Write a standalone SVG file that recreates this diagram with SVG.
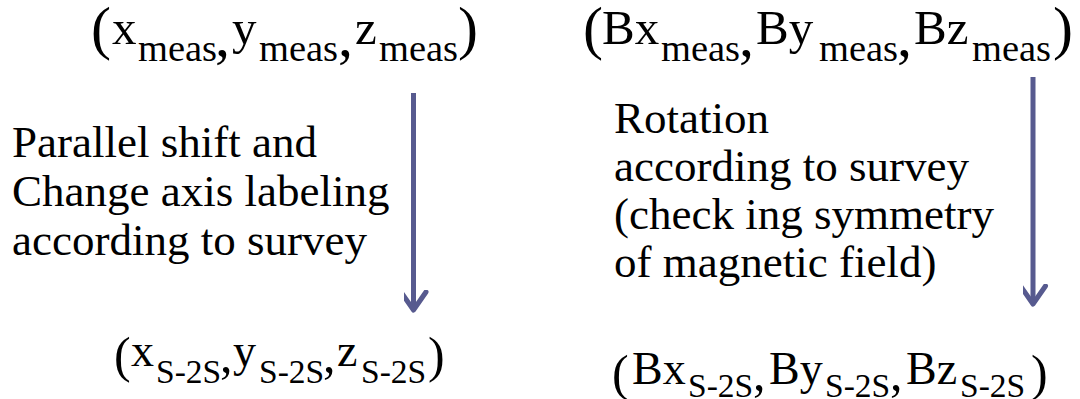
<svg xmlns="http://www.w3.org/2000/svg" width="1080" height="399" viewBox="0 0 1080 399">
<style>
text{font-family:'Liberation Serif','DejaVu Serif',serif;fill:#000}
.m{font-size:49px}
.s{font-size:38.5px}
.p{font-size:60px}
.bm{font-size:46px}
.bs{font-size:33.5px}
.bp{font-size:50px}
.lbl{font-size:45px}
.conn{stroke:#575a8f;stroke-width:5;fill:none}
</style>
<defs>
<marker id="chev" markerUnits="userSpaceOnUse" markerWidth="40" markerHeight="40" viewBox="-20 -30 40 40" refX="0" refY="0" orient="auto-start-reverse">
<path d="M-12.5,-18 L0,0 L12.5,-18" fill="none" stroke="#575a8f" stroke-width="5" stroke-linecap="round" stroke-linejoin="round" transform="rotate(-90)"/>
</marker>
</defs>
<rect width="1080" height="399" fill="#fff"/>
<g id="meas-pos">
<text><tspan class="p" x="91" y="48">(</tspan><tspan class="m" x="112" y="44">x</tspan><tspan class="s" x="138" y="61">meas</tspan><tspan class="p" x="215" y="56">,</tspan><tspan class="m" x="232" y="44">y</tspan><tspan class="s" x="259" y="61">meas</tspan><tspan class="p" x="338" y="56">,</tspan><tspan class="m" x="355" y="44">z</tspan><tspan class="s" x="379" y="61">meas</tspan><tspan class="p" x="458" y="48">)</tspan></text>
</g>
<g id="meas-field">
<text><tspan class="p" x="583" y="48">(</tspan><tspan class="m" x="602" y="44">Bx</tspan><tspan class="s" x="661" y="61">meas</tspan><tspan class="p" x="739" y="56">,</tspan><tspan class="m" x="756" y="44">By</tspan><tspan class="s" x="819" y="61">meas</tspan><tspan class="p" x="897" y="56">,</tspan><tspan class="m" x="914" y="44">Bz</tspan><tspan class="s" x="972" y="61">meas</tspan><tspan class="p" x="1053" y="48">)</tspan></text>
</g>
<g id="s2s-pos">
<text><tspan class="bp" x="114" y="372">(</tspan><tspan class="bm" x="131" y="366">x</tspan><tspan class="bs" x="156" y="383">S-2S</tspan><tspan class="bp" x="220" y="372">,</tspan><tspan class="bm" x="233" y="366">y</tspan><tspan class="bs" x="259" y="383">S-2S</tspan><tspan class="bp" x="323" y="372">,</tspan><tspan class="bm" x="337" y="366">z</tspan><tspan class="bs" x="361" y="383">S-2S</tspan><tspan class="bp" x="428" y="372">)</tspan></text>
</g>
<g id="s2s-field">
<text><tspan class="bp" x="612" y="390">(</tspan><tspan class="bm" x="632" y="384">Bx</tspan><tspan class="bs" x="688" y="397">S-2S</tspan><tspan class="bp" x="753" y="390">,</tspan><tspan class="bm" x="769" y="384">By</tspan><tspan class="bs" x="825" y="397">S-2S</tspan><tspan class="bp" x="890" y="390">,</tspan><tspan class="bm" x="906" y="384">Bz</tspan><tspan class="bs" x="960" y="397">S-2S</tspan><tspan class="bp" x="1031" y="390">)</tspan></text>
</g>
<g id="label-shift">
<text class="lbl"><tspan x="12" y="157">Parallel shift and</tspan><tspan x="12" y="206">Change axis labeling</tspan><tspan x="12" y="255">according to survey</tspan></text>
</g>
<g id="label-rotation">
<text class="lbl"><tspan x="614" y="133">Rotation</tspan><tspan x="614" y="181">according to survey</tspan><tspan x="614" y="229">(check ing symmetry</tspan><tspan x="614" y="277">of magnetic field)</tspan></text>
</g>
<g id="connectors">
<line class="conn" x1="413.5" y1="93" x2="413.5" y2="310" marker-end="url(#chev)"/>
<line class="conn" x1="1033" y1="77" x2="1033" y2="304" marker-end="url(#chev)"/>
</g>
</svg>
